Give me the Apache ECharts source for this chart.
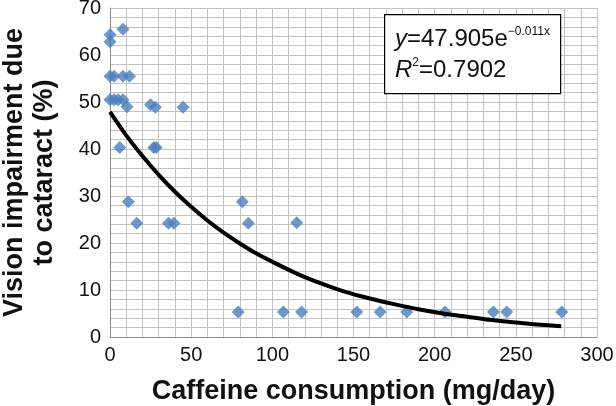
<!DOCTYPE html>
<html><head><meta charset="utf-8">
<script src="https://cdn.jsdelivr.net/npm/echarts@6/dist/echarts.min.js"></script>
<style>html,body{margin:0;padding:0;background:#fff}#c{width:616px;height:406px}</style>
</head><body><div id="c"></div>
<script>
// Scatter points (caffeine mg/day, vision impairment %)
const caffeine   = [0, 0, 8, 0, 2.5, 8, 12, 0, 2.5, 5, 8, 10.5, 25, 28, 45, 6, 27, 28.5, 11.3, 81.5, 16.5, 36, 39.4, 85.2, 115, 79, 106.8, 118, 152, 166.4, 182.8, 206.4, 236.2, 244.4, 278.3];
const impairment = [64.3, 62.8, 65.5, 55.5, 55.5, 55.5, 55.5, 50.5, 50.5, 50.5, 50.5, 49, 49.4, 48.9, 48.9, 40.3, 40.3, 40.3, 28.8, 28.8, 24.2, 24.2, 24.2, 24.2, 24.3, 5.3, 5.3, 5.3, 5.3, 5.3, 5.3, 5.3, 5.3, 5.3, 5.3];
// Trend curve
const trendX = [0, 10, 20, 30, 40, 50, 60, 70, 80, 90, 100, 115, 130, 145, 160, 175, 190, 205, 220, 235, 250, 265, 278];
const trendY = [47.9, 42.9, 38.5, 34.5, 30.9, 27.7, 24.8, 22.2, 19.9, 17.8, 16.0, 13.5, 11.4, 9.6, 8.2, 7.0, 5.9, 5.0, 4.3, 3.6, 3.1, 2.6, 2.3];
const xTickStep = 50, xMax = 300;
const yTickStep = 10, yMax = 70;
const eqLine1 = ['y', '=47.905e', '\u22120.011x'];
const eqLine2 = ['R', '2', '=0.7902'];

const FONT = "'Liberation Sans', Arial, sans-serif";
const chart = echarts.init(document.getElementById('c'), null, {renderer: 'canvas'});
const gridColor = '#c3c3c3';
chart.setOption({
  animation: false,
  backgroundColor: '#ffffff',
  grid: {left: 110, right: 19, top: 8, bottom: 69, containLabel: false, outerBoundsMode: 'none'},
  xAxis: {
    type: 'value', min: 0, max: xMax, interval: xTickStep,
    axisLine: {show: true, lineStyle: {color: '#8c8c8c', width: 1}},
    axisTick: {show: false},
    axisLabel: {color: '#111', fontSize: 20, fontFamily: FONT, margin: 8},
    splitLine: {show: true, lineStyle: {color: gridColor, width: 1}},
    minorTick: {show: false, splitNumber: 5},
    minorSplitLine: {show: true, lineStyle: {color: gridColor, width: 1}},
    name: 'Caffeine consumption (mg/day)', nameLocation: 'middle', nameGap: 41,
    nameTextStyle: {color: '#111', fontSize: 27, fontWeight: 'bold', fontFamily: FONT}
  },
  yAxis: {
    type: 'value', min: 0, max: yMax, interval: yTickStep,
    axisLine: {show: true, lineStyle: {color: '#8c8c8c', width: 1}},
    axisTick: {show: false},
    axisLabel: {color: '#111', fontSize: 20, fontFamily: FONT, margin: 9},
    splitLine: {show: true, lineStyle: {color: gridColor, width: 1}},
    minorTick: {show: false, splitNumber: 5},
    minorSplitLine: {show: true, lineStyle: {color: gridColor, width: 1}},
    name: 'Vision impairment due\nto cataract (%)', nameLocation: 'middle', nameGap: 50, nameRotate: 90,
    nameTextStyle: {color: '#111', fontSize: 27, fontWeight: 'bold', fontFamily: FONT, lineHeight: 30}
  },
  series: [
    {
      type: 'scatter', symbol: 'diamond', symbolSize: [13, 13],
      itemStyle: {color: '#4a7ebb'},
      data: caffeine.map((x, i) => [x, impairment[i]]), z: 3
    },
    {
      type: 'line', smooth: 0.3, symbol: 'none',
      lineStyle: {color: '#000', width: 4},
      data: trendX.map((x, i) => [x, trendY[i]]), z: 4
    }
  ],
  graphic: [
    {type: 'rect', left: 384, top: 14, shape: {width: 176, height: 79},
     style: {fill: '#fff', stroke: '#000', lineWidth: 1.2}, z: 10},
    {type: 'text', left: 395, top: 26, z: 11,
     style: {text: '{i|' + eqLine1[0] + '}{n|' + eqLine1[1] + '}{s|' + eqLine1[2] + '}',
       fill: '#111', font: '24px ' + FONT,
       rich: {i: {fontStyle: 'italic', fontSize: 24, fontFamily: FONT, lineHeight: 27},
              n: {fontSize: 24, fontFamily: FONT, lineHeight: 27},
              s: {fontSize: 12, fontFamily: FONT, verticalAlign: 'top', lineHeight: 27}}}},
    {type: 'text', left: 395, top: 57, z: 11,
     style: {text: '{i|' + eqLine2[0] + '}{s|' + eqLine2[1] + '}{n|' + eqLine2[2] + '}',
       fill: '#111', font: '24px ' + FONT,
       rich: {i: {fontStyle: 'italic', fontSize: 24, fontFamily: FONT, lineHeight: 27},
              n: {fontSize: 24, fontFamily: FONT, lineHeight: 27},
              s: {fontSize: 12, fontFamily: FONT, verticalAlign: 'top', lineHeight: 27}}}}
  ]
});
</script>
</body></html>
